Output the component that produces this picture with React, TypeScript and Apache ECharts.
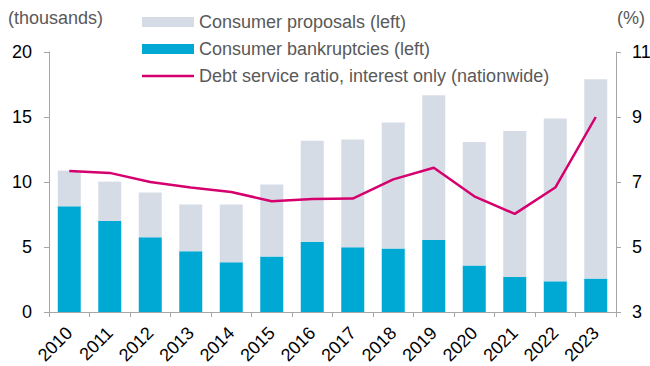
import React, { useEffect, useRef } from "react";
import * as echarts from "echarts";

const years = ["2010","2011","2012","2013","2014","2015","2016","2017","2018","2019","2020","2021","2022","2023"];
const bankruptcies = [8.13, 7.0, 5.75, 4.67, 3.83, 4.26, 5.41, 4.98, 4.88, 5.54, 3.57, 2.69, 2.36, 2.57];
const proposals = [2.75, 3.03, 3.45, 3.59, 4.43, 5.54, 7.77, 8.28, 9.69, 11.13, 9.51, 11.23, 12.52, 15.33];
const debtService = [7.34, 7.28, 7.0, 6.83, 6.69, 6.41, 6.48, 6.49, 7.08, 7.44, 6.56, 6.02, 6.83, 9.0];
const legendNames = [
  "Consumer proposals (left)",
  "Consumer bankruptcies (left)",
  "Debt service ratio, interest only (nationwide)",
];

const FONT = "Liberation Sans, Arial, sans-serif";
const C_PROP = "#d6dce5";
const C_BANK = "#00a9d4";
const C_LINE = "#d5006d";

export default function App() {
  const ref = useRef<HTMLDivElement>(null);
  useEffect(() => {
    if (!ref.current) return;
    const chart = echarts.init(ref.current, null, { renderer: "svg" });
    const axisLine = { show: true, lineStyle: { color: "#a6a6a6", width: 1 } };
    const textStyle = { font: `18px ${FONT}`, fill: "#595959", verticalAlign: "middle" };
    chart.setOption({
      animation: false,
      textStyle: { fontFamily: FONT },
      grid: { left: 49, right: 34, top: 52, bottom: 54, containLabel: false, outerBoundsMode: "none" },
      graphic: [
        { type: "text", left: 8, top: 9, style: { text: "(thousands)", font: `18px ${FONT}`, fill: "#595959" } },
        { type: "text", left: 617, top: 9, style: { text: "(%)", font: `18px ${FONT}`, fill: "#595959" } },
        { type: "rect", shape: { x: 142, y: 17, width: 52, height: 10 }, style: { fill: C_PROP } },
        { type: "text", x: 199, y: 22, style: { ...textStyle, text: legendNames[0] } },
        { type: "rect", shape: { x: 142, y: 44, width: 52, height: 10 }, style: { fill: C_BANK } },
        { type: "text", x: 199, y: 49, style: { ...textStyle, text: legendNames[1] } },
        { type: "line", shape: { x1: 142, y1: 76, x2: 194, y2: 76 }, style: { stroke: C_LINE, lineWidth: 2.5 } },
        { type: "text", x: 199, y: 76, style: { ...textStyle, text: legendNames[2] } },
      ],
      xAxis: {
        type: "category",
        data: years,
        axisLine,
        axisTick: { show: true, alignWithLabel: false, length: 5, lineStyle: { color: "#a6a6a6" } },
        axisLabel: { rotate: 45, fontSize: 18, color: "#000", margin: 18, fontFamily: FONT, interval: 0 },
      },
      yAxis: [
        {
          type: "value",
          min: 0,
          max: 20,
          interval: 5,
          axisLine,
          axisTick: { show: true, length: 5, lineStyle: { color: "#a6a6a6" } },
          splitLine: { show: false },
          axisLabel: { fontSize: 18, color: "#000", margin: 17, fontFamily: FONT },
        },
        {
          type: "value",
          min: 3,
          max: 11,
          interval: 2,
          position: "right",
          axisLine,
          axisTick: { show: true, length: 5, lineStyle: { color: "#a6a6a6" } },
          splitLine: { show: false },
          axisLabel: { fontSize: 18, color: "#000", margin: 16, fontFamily: FONT },
        },
      ],
      series: [
        {
          name: legendNames[1],
          type: "bar",
          stack: "total",
          data: bankruptcies,
          barWidth: 23,
          itemStyle: { color: C_BANK },
        },
        {
          name: legendNames[0],
          type: "bar",
          stack: "total",
          data: proposals,
          barWidth: 23,
          itemStyle: { color: C_PROP },
        },
        {
          name: legendNames[2],
          type: "line",
          yAxisIndex: 1,
          data: debtService,
          symbol: "none",
          showSymbol: false,
          lineStyle: { color: C_LINE, width: 2.5 },
        },
      ],
    });
    return () => chart.dispose();
  }, []);
  return <div ref={ref} style={{ width: 650, height: 366, position: "absolute", left: 0, top: 0 }} />;
}
